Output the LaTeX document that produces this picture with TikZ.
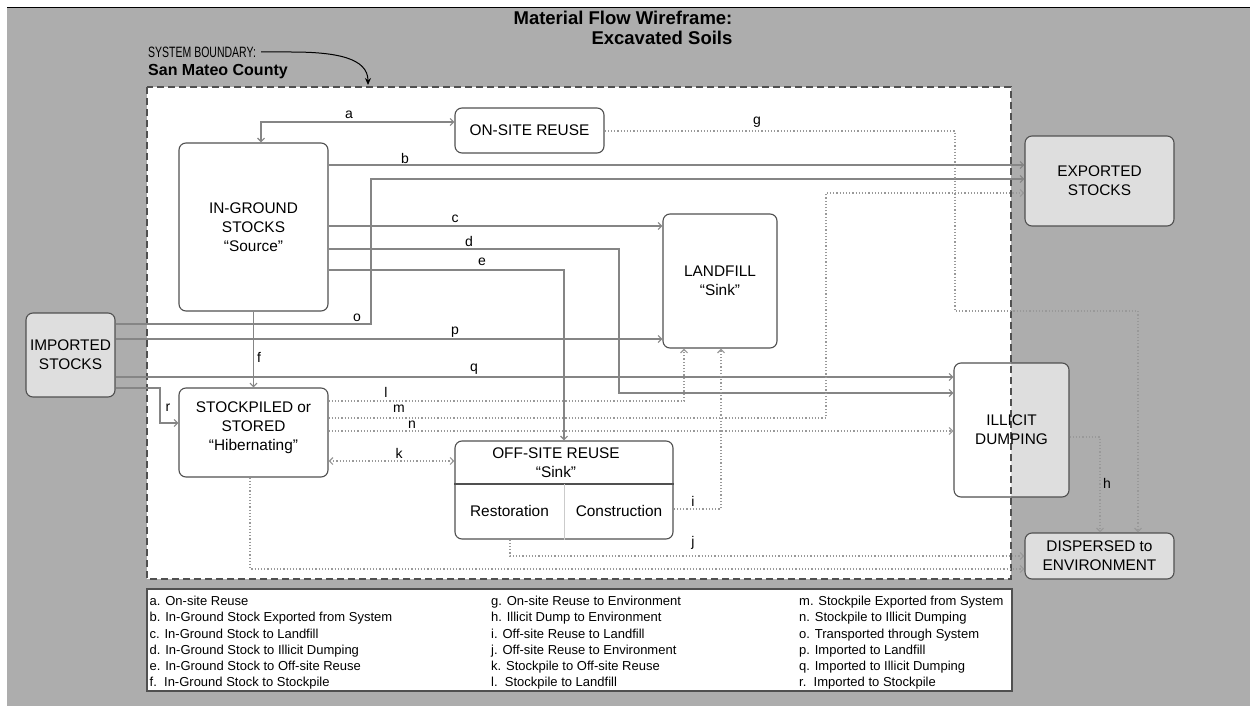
\documentclass[tikz,border=0pt]{standalone}
\usepackage{fontspec}
\setmainfont{Liberation Sans}
\newfontfamily\condf[FakeStretch=0.7]{Liberation Sans}
\usetikzlibrary{arrows.meta}
\definecolor{bg}{HTML}{ADADAD}
\definecolor{lgray}{HTML}{DEDEDE}
\definecolor{bord}{HTML}{505050}
\definecolor{solidc}{HTML}{858585}
\definecolor{dotc}{HTML}{999999}
\newcommand{\nf}{\fontsize{15.4}{18.8}\selectfont}
\begin{document}
\begin{tikzpicture}[x=1pt,y=-1pt,
  >={Straight Barb[length=3.5pt,width=7pt]},
  box/.style={draw=bord, line width=1.1pt, rounded corners=7pt, fill=white, align=center, font=\nf, inner sep=0pt},
  gbox/.style={box, fill=lgray},
  conn/.style={draw=solidc, line width=1.2pt},
  dconn/.style={draw=dotc, line width=1.2pt, dotted},
  lbl/.style={font=\fontsize{14}{14}\selectfont, inner sep=0pt},
  legtext/.style={anchor=north west, align=left, inner sep=0pt, font=\fontsize{13}{16.2}\selectfont},
  plain/.style={inner sep=0pt, align=center}]
\useasboundingbox (0,0) rectangle (1250,706);
% background
\fill[white] (0,0) rectangle (1250,706);
\fill[bg] (7,8) rectangle (1250,706);
\draw[black, line width=1.5pt] (7,7.5) -- (1250,7.5);
% system boundary fill
\fill[white] (147,87) rectangle (1011,579);
% illicit dumping split fill
\fill[lgray, rounded corners=7pt] (954,363) rectangle (1069,497);
\begin{scope}
  \clip (147,87) rectangle (1011,579);
  \fill[white, rounded corners=7pt] (954,363) rectangle (1069,497);
\end{scope}
\draw[draw=bord, line width=1.2pt, dash pattern=on 7pt off 4pt] (147,87) rectangle (1011,579);
% title
\node[plain, align=right, font=\bfseries\fontsize{18.5}{20}\selectfont] (title) at (623,28) {Material Flow Wireframe:\\Excavated Soils};
% system boundary label
\node[plain, anchor=west, font=\condf\fontsize{15}{16}\selectfont] (sysb) at (148,52) {SYSTEM BOUNDARY:};
\node[plain, anchor=west, font=\bfseries\fontsize{16}{17}\selectfont] (sysc) at (148,72) {San Mateo County};
\coordinate (sbend) at (368,85);
\draw[black, line width=1pt, -{Stealth[length=7pt,width=6pt]}] ([xshift=5pt]sysb.east) -- ++(30,0) .. controls +(45,0) and (368,58) .. (sbend);
% nodes
\node[box, minimum width=149pt, minimum height=168pt] (ig) at (253.5,227) {IN-GROUND\\STOCKS\\“Source”};
\node[box, minimum width=149pt, minimum height=45pt] (onsite) at (529.5,130.5) {ON-SITE REUSE};
\node[gbox, minimum width=149pt, minimum height=90pt] (exp) at (1099.5,181) {EXPORTED\\STOCKS};
\node[box, minimum width=114pt, minimum height=134pt] (landfill) at (720,281) {LANDFILL\\“Sink”};
\node[gbox, minimum width=89pt, minimum height=84pt] (imp) at (70.5,355) {IMPORTED\\STOCKS};
\node[box, minimum width=149pt, minimum height=89pt] (stock) at (253.5,432.5) {};
\node[plain, font=\nf] (stockt) at (253.5,427.5) {STOCKPILED or\\STORED\\“Hibernating”};
\node[box, minimum width=218pt, minimum height=98pt] (offsite) at (564,490) {};
\draw[draw=bord, line width=1.1pt] (offsite.west |- 0,484) -- (offsite.east |- 0,484);
\draw[draw=lgray!80!gray, line width=0.8pt] (564,484) -- (offsite.south);
\node[plain, font=\nf] (offt) at (556,463) {OFF-SITE REUSE\\“Sink”};
\node[plain, font=\nf] (rest) at (509.5,510.5) {Restoration};
\node[plain, font=\nf] (cons) at (619,510.5) {Construction};
\node[box, fill=none, minimum width=115pt, minimum height=134pt] (illicit) at (1011.5,430) {ILLICIT\\DUMPING};
\node[gbox, minimum width=149pt, minimum height=46pt] (disp) at (1099.5,556) {DISPERSED to\\ENVIRONMENT};
% solid connectors
\draw[conn, <->] (261,0 |- ig.north) |- (onsite.west |- 0,122);
\draw[conn, ->] (ig.east |- 0,165) -- (exp.west |- 0,165);
\draw[conn, ->] (imp.east |- 0,324) -| (371,179) -- (exp.west |- 0,179);
\draw[conn, ->] (ig.east |- 0,226) -- (landfill.west |- 0,226);
\draw[conn, ->] (ig.east |- 0,249) -| (619,393) -- (illicit.west |- 0,393);
\draw[conn, ->] (ig.east |- 0,270) -| (offsite.north);
\draw[conn, ->] (imp.east |- 0,339) -- (landfill.west |- 0,339);
\draw[conn, ->] (imp.east |- 0,377) -- (illicit.west |- 0,377);
\draw[conn, ->] (imp.east |- 0,388) -| (160,423) -- (stock.west |- 0,423);
\draw[conn, ->] (ig.south) -- (stock.north);
% dotted connectors
\draw[dconn, ->] (stock.east |- 0,418) -| (826,193) -- (exp.west |- 0,193);
\draw[dconn, ->] (stock.east |- 0,401) -| (684,0 |- landfill.south);
\draw[dconn, ->] (stock.east |- 0,431) -- (illicit.west |- 0,431);
\draw[dconn, <->] (stock.east |- 0,461) -- (offsite.west |- 0,461);
\draw[dconn, ->] (onsite.east |- 0,131) -| (955,311) -| (1138,0 |- disp.north);
\draw[dconn, ->] (illicit.east |- 0,437) -| (1100,0 |- disp.north);
\draw[dconn, ->] (offsite.east |- 0,509) -| (721,0 |- landfill.south);
\draw[dconn, ->] (510,0 |- offsite.south) |- (disp.west |- 0,556);
\draw[dconn, ->] (250,0 |- stock.south) |- (disp.west |- 0,569);
% connector labels
\node[lbl] (la) at (349,115) {a};
\node[lbl] (lb) at (405,158) {b};
\node[lbl] (lc) at (455,219) {c};
\node[lbl] (ld) at (469,241) {d};
\node[lbl] (le) at (482,262) {e};
\node[lbl] (lf) at (259,357) {f};
\node[lbl] (lg) at (757,122) {g};
\node[lbl] (lh) at (1107,483) {h};
\node[lbl] (li) at (693,501) {i};
\node[lbl] (lj) at (693,543) {j};
\node[lbl] (lk) at (399,453) {k};
\node[lbl] (ll) at (386,392) {l};
\node[lbl] (lm) at (399,409) {m};
\node[lbl] (ln) at (412,425) {n};
\node[lbl] (lo) at (357,318) {o};
\node[lbl] (lp) at (455,332) {p};
\node[lbl] (lq) at (474,369) {q};
\node[lbl] (lr) at (168,408) {r};
% legend
\draw[draw=bord, line width=1.1pt, fill=white] (147,589) rectangle (1012,691);
\node[legtext] (leg1) at (149.5,596) {a. On-site Reuse\\b. In-Ground Stock Exported from System\\c. In-Ground Stock to Landfill\\d. In-Ground Stock to Illicit Dumping\\e. In-Ground Stock to Off-site Reuse\\f.\ \ In-Ground Stock to Stockpile};
\node[legtext] (leg2) at (491,596) {g. On-site Reuse to Environment\\h. Illicit Dump to Environment\\i. Off-site Reuse to Landfill\\j. Off-site Reuse to Environment\\k. Stockpile to Off-site Reuse\\l.\ \ Stockpile to Landfill};
\node[legtext] (leg3) at (799,596) {m. Stockpile Exported from System\\n. Stockpile to Illicit Dumping\\o. Transported through System\\p. Imported to Landfill\\q. Imported to Illicit Dumping\\r.\ \ Imported to Stockpile};
\end{tikzpicture}
\end{document}
